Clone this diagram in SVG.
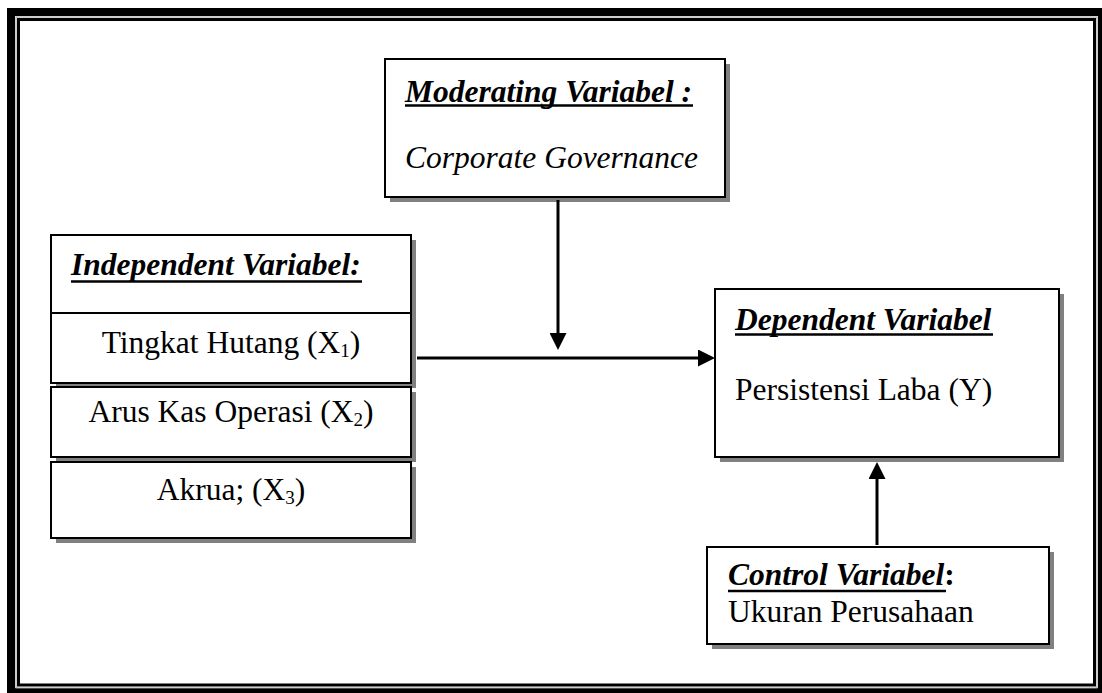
<svg xmlns="http://www.w3.org/2000/svg" width="1102" height="693" viewBox="0 0 1102 693">
<style>
.box{fill:#fff;stroke:#000;stroke-width:2}
.sh{fill:#808080}
.t{font-family:"Liberation Serif","Times New Roman",serif;font-size:31.5px;fill:#000}
.h{font-weight:bold;font-style:italic}
.i{font-style:italic}
.ul{stroke:#000;stroke-width:2.6}
.con{stroke:#000;stroke-width:3;fill:none}
</style>
<defs>
<marker id="arr" markerUnits="userSpaceOnUse" markerWidth="17" markerHeight="17" refX="7" refY="8.5" orient="auto">
<path d="M0,0 L17,8.5 L0,17 z" fill="#000"/>
</marker>
</defs>
<rect x="0" y="0" width="1102" height="693" fill="#fff"/>
<g id="frame">
<rect x="11" y="12" width="1091" height="680" fill="none" stroke="#000" stroke-width="8"/>
<rect x="16" y="17" width="1081" height="671" fill="none" stroke="#999" stroke-width="1"/>
<rect x="18.5" y="19.5" width="1076" height="665.5" fill="none" stroke="#000" stroke-width="3"/>
</g>
<g id="moderating">
<rect class="sh" x="390" y="64" width="340" height="138"/>
<rect class="box" x="385" y="59" width="340" height="138"/>
<text class="t h" x="405" y="102">Moderating Variabel :</text>
<line class="ul" x1="405" y1="105.5" x2="693" y2="105.5"/>
<text class="t i" x="405" y="168">Corporate Governance</text>
</g>
<g id="independent">
<rect class="sh" x="56" y="240" width="360" height="148"/>
<rect class="box" x="51" y="235" width="360" height="148"/>
<line x1="51" y1="313" x2="411" y2="313" stroke="#000" stroke-width="2"/>
<text class="t h" x="71" y="275">Independent Variabel:</text>
<line class="ul" x1="71" y1="281.5" x2="362" y2="281.5"/>
<text class="t" x="231" y="353" text-anchor="middle">Tingkat Hutang (X<tspan font-size="19" dy="4">1</tspan><tspan dy="-4">)</tspan></text>
</g>
<g id="x2">
<rect class="sh" x="56" y="392" width="360" height="70"/>
<rect class="box" x="51" y="387" width="360" height="70"/>
<text class="t" x="231" y="422" text-anchor="middle">Arus Kas Operasi (X<tspan font-size="19" dy="4">2</tspan><tspan dy="-4">)</tspan></text>
</g>
<g id="x3">
<rect class="sh" x="56" y="467" width="360" height="76"/>
<rect class="box" x="51" y="462" width="360" height="76"/>
<text class="t" x="231" y="500" text-anchor="middle">Akrua; (X<tspan font-size="19" dy="4">3</tspan><tspan dy="-4">)</tspan></text>
</g>
<g id="dependent">
<rect class="sh" x="720" y="294" width="344" height="168"/>
<rect class="box" x="715" y="289" width="344" height="168"/>
<text class="t h" x="735" y="330">Dependent Variabel</text>
<line class="ul" x1="735" y1="334.5" x2="993" y2="334.5"/>
<text class="t" x="735" y="400">Persistensi Laba (Y)</text>
</g>
<g id="control">
<rect class="sh" x="712" y="552" width="342" height="97"/>
<rect class="box" x="707" y="547" width="342" height="97"/>
<text class="t h" x="728" y="585">Control Variabel<tspan font-style="normal">:</tspan></text>
<line class="ul" x1="728" y1="591" x2="946" y2="591"/>
<text class="t" x="728" y="622">Ukuran Perusahaan</text>
</g>
<g id="connectors">
<line class="con" x1="417" y1="358" x2="705" y2="358" marker-end="url(#arr)"/>
<line class="con" x1="558" y1="200" x2="558" y2="340" marker-end="url(#arr)"/>
<line class="con" x1="877" y1="545" x2="877" y2="472" marker-end="url(#arr)"/>
</g>
</svg>
